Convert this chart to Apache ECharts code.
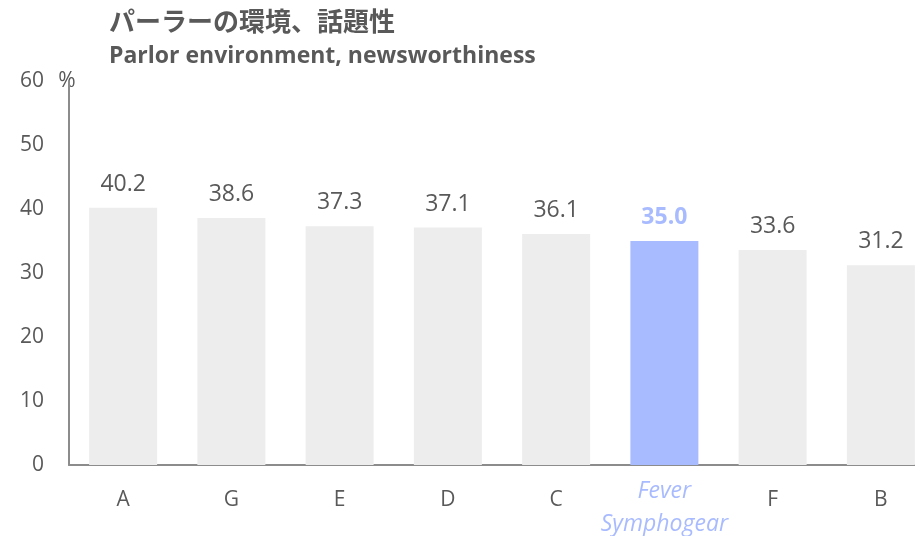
<!DOCTYPE html>
<html>
<head>
<meta charset="utf-8">
<script src="https://cdn.jsdelivr.net/npm/echarts@6/dist/echarts.min.js"></script>
<style>
  html, body { margin: 0; padding: 0; background: #fff; }
  #main { width: 915px; height: 536px; }
</style>
</head>
<body>
<div id="main"></div>
<script>
var categories = ['A', 'G', 'E', 'D', 'C', 'Fever\nSymphogear', 'F', 'B'];
var values = [40.2, 38.6, 37.3, 37.1, 36.1, 35.0, 33.6, 31.2];
var highlightIndex = 5;
var yTicks = [0, 10, 20, 30, 40, 50, 60];

var grey = '#595959';
var blue = '#a9bbff';
var fontFamily = '"Open Sans", "Noto Sans CJK JP", sans-serif';

var chartDom = document.getElementById('main');
var myChart = echarts.init(chartDom);

// highlighted category gets its own label style
var axisData = categories.map(function (c, i) {
    if (i === highlightIndex) {
        return {
            value: c,
            textStyle: { color: blue, fontStyle: 'italic', fontSize: 23, lineHeight: 33 }
        };
    }
    return { value: c, textStyle: { lineHeight: 50 } };
});

var barData = values.map(function (v, i) {
    if (i === highlightIndex) {
        return {
            value: v,
            itemStyle: { color: blue },
            label: { color: blue, fontWeight: 'bold' }
        };
    }
    return v;
});

var option = {
    animation: false,
    textStyle: { fontFamily: fontFamily },
    title: {
        text: 'パーラーの環境、話題性',
        subtext: 'Parlor environment, newsworthiness',
        left: 104,
        top: 3,
        itemGap: 11,
        textStyle: { fontSize: 26, fontWeight: 'bold', color: grey, fontFamily: '"Noto Sans CJK JP", sans-serif' },
        subtextStyle: { fontSize: 23, fontWeight: 'bold', color: grey, fontFamily: fontFamily }
    },
    grid: {
        left: 69,
        width: 866,
        top: 81,
        bottom: 71,
        outerBoundsMode: 'none'
    },
    xAxis: {
        type: 'category',
        data: axisData,
        axisLine: { lineStyle: { color: '#8c8c8c', width: 2 } },
        axisTick: { show: false },
        axisLabel: {
            color: grey,
            fontSize: 21,
            margin: 10,
            interval: 0
        }
    },
    yAxis: {
        type: 'value',
        min: yTicks[0],
        max: yTicks[yTicks.length - 1],
        interval: 10,
        name: '%',
        nameLocation: 'end',
        nameGap: 0,
        nameTextStyle: { color: grey, fontSize: 21, verticalAlign: 'middle', align: 'center', padding: [0, 4, 0, 0] },
        axisLine: { show: true, lineStyle: { color: '#8c8c8c', width: 2 } },
        axisTick: { show: false },
        splitLine: { show: false },
        axisLabel: { color: grey, fontSize: 21, margin: 25 }
    },
    series: [
        {
            type: 'bar',
            data: barData,
            barWidth: 68,
            itemStyle: { color: '#ededed' },
            label: {
                show: true,
                position: 'top',
                distance: 12,
                color: grey,
                fontSize: 23,
                formatter: function (p) { return p.value.toFixed(1); }
            }
        }
    ]
};
myChart.setOption(option);
</script>
</body>
</html>
